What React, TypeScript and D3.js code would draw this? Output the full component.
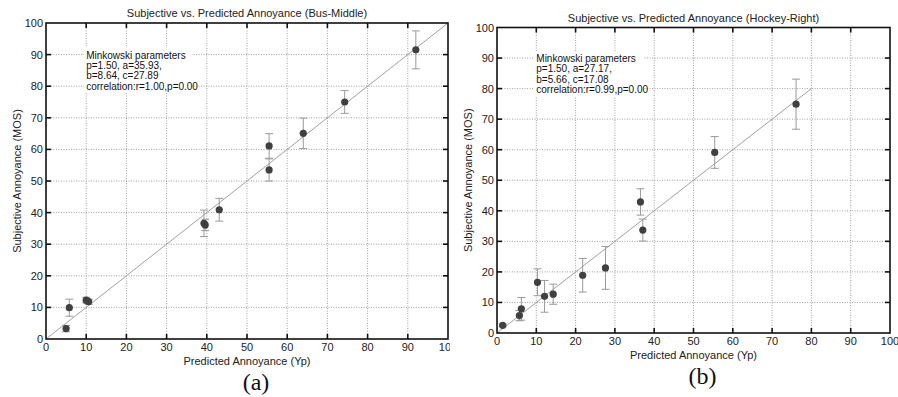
import React from "react";
import * as d3 from "d3";

// Bus-Middle sequence: predicted vs. subjective annoyance with 95% bars
const busPredicted = [5.0, 5.8, 10.0, 10.6, 39.3, 39.6, 43.1, 55.5, 55.5, 64.0, 74.3, 92.0];
const busSubjective = [3.3, 9.9, 12.3, 11.8, 36.6, 36.1, 40.9, 61.1, 53.5, 65.1, 75.0, 91.5];
const busError = [1.0, 2.7, 0.9, 0.8, 4.2, 1.8, 3.6, 3.9, 3.5, 4.8, 3.6, 6.0];
const busNotes = ["Minkowski parameters", "p=1.50, a=35.93,", "b=8.64, c=27.89", "correlation:r=1.00,p=0.00"];

// Hockey-Right sequence
const hockeyPredicted = [1.45, 5.7, 6.2, 10.3, 12.1, 14.3, 21.8, 27.6, 36.5, 37.1, 55.4, 76.1];
const hockeySubjective = [2.5, 5.7, 7.9, 16.6, 12.0, 12.7, 18.9, 21.3, 42.9, 33.7, 59.1, 74.9];
const hockeyError = [0.5, 1.7, 3.7, 4.4, 5.2, 3.3, 5.5, 7.0, 4.3, 3.6, 5.2, 8.2];
const hockeyNotes = ["Minkowski parameters", "p=1.50, a=27.17,", "b=5.66, c=17.08", "correlation:r=0.99,p=0.00"];

const axisTicks = [0, 10, 20, 30, 40, 50, 60, 70, 80, 90, 100];

const SANS = "'Liberation Sans', Arial, sans-serif";
const SERIF = "'Liberation Serif', 'Times New Roman', serif";

type PanelProps = {
  title: string;
  caption: string;
  xs: number[];
  ys: number[];
  errs: number[];
  notes: string[];
  fitEnd: number;
  left: number;
  right: number;
  top: number;
  bottom: number;
  clipRight?: number;
};

function Panel(p: PanelProps) {
  const x = d3.scaleLinear().domain([0, 100]).range([p.left, p.right]);
  const y = d3.scaleLinear().domain([0, 100]).range([p.bottom, p.top]);
  const cx = (p.left + p.right) / 2;
  const cy = (p.top + p.bottom) / 2;
  const tickLen = 5;
  const cap = 4;
  const gridTicks = axisTicks.slice(1, -1);
  const noteX = x(10);
  const noteY = y(90);
  const id = `clip-${p.caption.replace(/\W/g, "")}`;
  return (
    <g clipPath={p.clipRight ? `url(#${id})` : undefined}>
      {p.clipRight && (
        <defs>
          <clipPath id={id}>
            <rect x={0} y={0} width={p.clipRight} height={397} />
          </clipPath>
        </defs>
      )}
      {/* dotted grid */}
      {gridTicks.map((t) => (
        <g key={`g${t}`} stroke="#a0a0a0" strokeWidth={1} strokeDasharray="1,1.5">
          <line x1={x(t)} x2={x(t)} y1={p.top} y2={p.bottom} />
          <line x1={p.left} x2={p.right} y1={y(t)} y2={y(t)} />
        </g>
      ))}
      {/* fitted diagonal */}
      <line x1={x(0)} y1={y(0)} x2={x(p.fitEnd)} y2={y(p.fitEnd)} stroke="#a0a0a0" strokeWidth={1} />
      {/* parameter note on white background */}
      <rect x={noteX - 2} y={noteY - 7} width={p.notes[3].length * 4.35} height={45} fill="#fff" />
      {p.notes.map((s, i) => (
        <text key={s} x={noteX} y={noteY + 4 + i * 10.4} fontFamily={SANS} fontSize={10} fill="#111">
          {s}
        </text>
      ))}
      {/* error bars */}
      {p.xs.map((v, i) => {
        const px = x(v);
        const y1 = y(p.ys[i] + p.errs[i]);
        const y0 = y(p.ys[i] - p.errs[i]);
        return (
          <g key={`e${i}`} stroke="#9a9a9a" strokeWidth={1}>
            <line x1={px} x2={px} y1={y1} y2={y0} />
            <line x1={px - cap} x2={px + cap} y1={y1} y2={y1} />
            <line x1={px - cap} x2={px + cap} y1={y0} y2={y0} />
          </g>
        );
      })}
      {/* mean scores */}
      {p.xs.map((v, i) => (
        <circle key={`c${i}`} cx={x(v)} cy={y(p.ys[i])} r={3.6} fill="#404040" />
      ))}
      {/* frame and inward ticks */}
      <rect x={p.left} y={p.top} width={p.right - p.left} height={p.bottom - p.top} fill="none" stroke="#111" strokeWidth={1.6} />
      {gridTicks.map((t) => (
        <g key={`t${t}`} stroke="#111" strokeWidth={1.6}>
          <line x1={x(t)} x2={x(t)} y1={p.bottom} y2={p.bottom - tickLen} />
          <line x1={x(t)} x2={x(t)} y1={p.top} y2={p.top + tickLen} />
          <line x1={p.left} x2={p.left + tickLen} y1={y(t)} y2={y(t)} />
          <line x1={p.right} x2={p.right - tickLen} y1={y(t)} y2={y(t)} />
        </g>
      ))}
      {/* tick labels */}
      {axisTicks.map((t) => (
        <text key={`xl${t}`} x={x(t)} y={p.bottom + 12} textAnchor="middle" fontFamily={SANS} fontSize={11} fill="#222">
          {t}
        </text>
      ))}
      {axisTicks.map((t) => (
        <text key={`yl${t}`} x={p.left - 3} y={y(t) + 4} textAnchor="end" fontFamily={SANS} fontSize={11} fill="#222">
          {t}
        </text>
      ))}
      <text x={cx} y={p.top - 6} textAnchor="middle" fontFamily={SANS} fontSize={11} fill="#222">
        {p.title}
      </text>
      <text x={cx} y={p.bottom + 26} textAnchor="middle" fontFamily={SANS} fontSize={11} fill="#222">
        Predicted Annoyance (Yp)
      </text>
      <text
        transform={`translate(${p.left - 25},${cy}) rotate(-90)`}
        textAnchor="middle"
        fontFamily={SANS}
        fontSize={11}
        fill="#222"
      >
        Subjective Annoyance (MOS)
      </text>
      <text x={cx + 9} y={p.bottom + 51} textAnchor="middle" fontFamily={SERIF} fontSize={24} fill="#111">
        {p.caption}
      </text>
    </g>
  );
}

export default function App() {
  return (
    <svg
      width={898}
      height={397}
      style={{ position: "absolute", left: 0, top: 0, background: "#fff" }}
    >
      <rect width={898} height={397} fill="#fff" />
      <Panel
        title="Subjective vs. Predicted Annoyance (Bus-Middle)"
        caption="(a)"
        xs={busPredicted}
        ys={busSubjective}
        errs={busError}
        notes={busNotes}
        fitEnd={100}
        left={46}
        right={448}
        top={23}
        bottom={339}
        clipRight={450}
      />
      <Panel
        title="Subjective vs. Predicted Annoyance (Hockey-Right)"
        caption="(b)"
        xs={hockeyPredicted}
        ys={hockeySubjective}
        errs={hockeyError}
        notes={hockeyNotes}
        fitEnd={80}
        left={497}
        right={890}
        top={27.5}
        bottom={333}
      />
    </svg>
  );
}
